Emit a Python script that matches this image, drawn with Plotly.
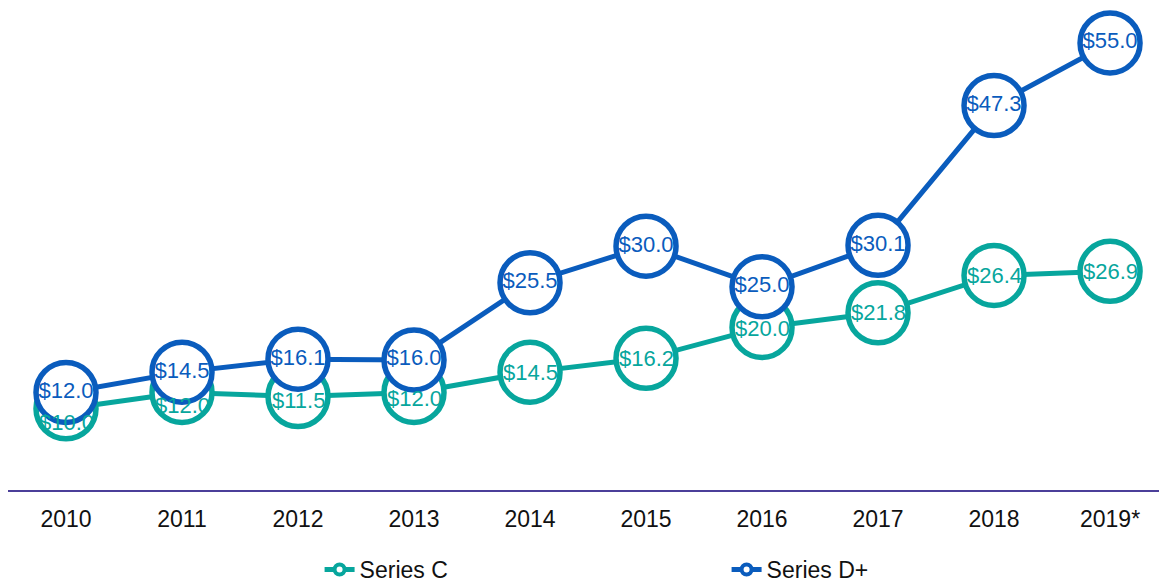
import plotly.graph_objects as go

years = ["2010", "2011", "2012", "2013", "2014", "2015", "2016", "2017", "2018", "2019*"]
series_c = [10.0, 12.0, 11.5, 12.0, 14.5, 16.2, 20.0, 21.8, 26.4, 26.9]
series_d = [12.0, 14.5, 16.1, 16.0, 25.5, 30.0, 25.0, 30.1, 47.3, 55.0]
# vertical nudge (px) of Series C labels where they collide with Series D markers
c_label_shift = [-14, -13, -4, -6, 0, 0, -1, 0, 0, 0]

TEAL = "#07A69D"
BLUE = "#0A5CBD"
FONT = "Liberation Sans, Arial, sans-serif"

fig = go.Figure()

# Series C (labels added as annotations below)
fig.add_trace(go.Scatter(
    x=years, y=series_c, mode="lines+markers",
    line=dict(color=TEAL, width=5),
    marker=dict(size=60, color="white", line=dict(color=TEAL, width=5.5)),
    showlegend=False, hoverinfo="skip", cliponaxis=False,
))
# Series D+
fig.add_trace(go.Scatter(
    x=years, y=series_d, mode="lines+markers+text",
    text=[f"${v:.1f}" for v in series_d], textposition="middle center",
    textfont=dict(family=FONT, size=22, color=BLUE),
    line=dict(color=BLUE, width=5),
    marker=dict(size=60, color="white", line=dict(color=BLUE, width=5.5)),
    showlegend=False, hoverinfo="skip", cliponaxis=False,
))

for i, (v, s) in enumerate(zip(series_c, c_label_shift)):
    fig.add_annotation(
        x=i, y=v, xref="x", yref="y", text=f"${v:.1f}", showarrow=False, yshift=s,
        font=dict(family=FONT, size=22, color=TEAL),
        xanchor="center", yanchor="middle",
    )

# legend entries
for name, col in [("Series C", TEAL), ("Series D+", BLUE)]:
    fig.add_trace(go.Scatter(
        x=[None], y=[None], mode="lines+markers", name=name,
        line=dict(color=col, width=5),
        marker=dict(size=10, color="white", line=dict(color=col, width=4)),
    ))

fig.update_layout(
    width=1167, height=583,
    margin=dict(l=0, r=0, t=0, b=92),
    paper_bgcolor="white", plot_bgcolor="white",
    font=dict(family=FONT, size=23, color="#111111"),
    xaxis=dict(
        type="category", range=[-0.5, 9.56], showgrid=False, zeroline=False,
        showline=True, linecolor="#4B3F99", linewidth=2,
        ticks="", tickfont=dict(size=23, color="#111111"), ticklabelstandoff=7,
    ),
    yaxis=dict(range=[0, 59.3], visible=False, showgrid=False, zeroline=False),
    legend=dict(
        orientation="h", x=0.267, xanchor="left", y=-0.165, yanchor="middle",
        font=dict(size=23, color="#111111"),
        entrywidth=362, entrywidthmode="pixels",
    ),
)

fig.write_html("out.html")
